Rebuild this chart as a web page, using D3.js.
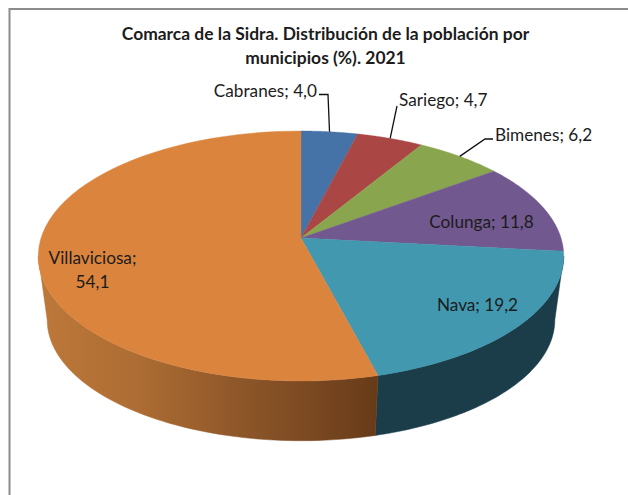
<!DOCTYPE html>
<html><head><meta charset="utf-8">
<script src="https://cdn.jsdelivr.net/npm/d3@7"></script>
<style>html,body{margin:0;padding:0;background:#fff;overflow:hidden}svg{display:block}text{font-family:Lato,"Open Sans",sans-serif;fill:#1c1c1c}</style>
</head><body><svg id="c" width="628" height="495"></svg>
<script>
const titleLines = ["Comarca de la Sidra. Distribución de la población por", "municipios (%). 2021"];
const municipios = ["Cabranes", "Sariego", "Bimenes", "Colunga", "Nava", "Villaviciosa"];
const poblacion = [4.0, 4.7, 6.2, 11.8, 19.2, 54.1];
const colores = ["#4572A7", "#AA4643", "#89A54E", "#71588F", "#4198AF", "#DB843D"];
const coloresLado = ["#2b4668", "#692b29", "#556630", "#463658", "#1b3d4a", "url(#ladoNaranja)"];

// Layout (separate from the data)
const hub = {x: 301, y: 238}, a = 260, b = 122.4, k = 0.144;
const depth = {scale: 0.966, dy: 64.6};
const labelLayout = [
  {x: 317, y: 97, anchor: "end", line: [[319, 94.5], [328, 94.5]]},
  {x: 399, y: 106, anchor: "start", line: [[397, 106]]},
  {x: 495, y: 141, anchor: "start", line: [[493, 139], [485, 139]]},
  {x: 481.5, y: 228, anchor: "middle"},
  {x: 477.5, y: 311, anchor: "middle"},
  {x: 92.5, y: 263.5, anchor: "middle", wrap: true}
];

const svg = d3.select("#c");
const coma = d3.formatLocale({decimal: ",", thousands: ".", grouping: [3], currency: ["", "€"]}).format(".1f");

// Perspective projection of a disc seen from above
function project(theta, face) {
  const u = Math.sin(theta), v = -Math.cos(theta), w = 1 - k * v;
  const s = face ? depth.scale : 1, dy = face ? depth.dy : 0;
  return [hub.x + s * a * u / w, hub.y + dy + s * b * v / w];
}
const arcSteps = (t0, t1) => d3.range(0, 61).map(i => t0 + (t1 - t0) * i / 60);
const lineGen = d3.line();

const arcs = d3.pie().sort(null).value(d => d)(poblacion);

// Frame
svg.append("path").attr("d", "M9.5,495V9H628").attr("fill", "none").attr("stroke", "#8c8c8c").attr("stroke-width", 2);

// Gradient of the orange wall
const grad = svg.append("defs").append("linearGradient").attr("id", "ladoNaranja")
  .attr("gradientUnits", "userSpaceOnUse").attr("x1", 40).attr("x2", 378).attr("y1", 0).attr("y2", 0);
[[0, "#bd7839"], [0.3, "#ac6c33"], [0.6, "#8d5629"], [0.85, "#764520"], [1, "#673b18"]]
  .forEach(([o, c]) => grad.append("stop").attr("offset", o).attr("stop-color", c));

// Side walls: only the part of each slice facing the viewer
const silR = Math.acos(-k), silL = 2 * Math.PI - silR;
arcs.forEach((d, i) => {
  const t0 = Math.max(d.startAngle, silR), t1 = Math.min(d.endAngle, silL);
  if (t1 <= t0) return;
  const ts = arcSteps(t0, t1);
  const pts = ts.map(t => project(t, false)).concat(ts.slice().reverse().map(t => project(t, true)));
  svg.append("path").attr("d", lineGen(pts) + "Z").attr("fill", coloresLado[i]).attr("stroke", coloresLado[i]).attr("stroke-width", 0.5);
});

// Top face
arcs.forEach((d, i) => {
  const pts = [[hub.x, hub.y]].concat(arcSteps(d.startAngle, d.endAngle).map(t => project(t, false)));
  svg.append("path").attr("d", lineGen(pts) + "Z").attr("fill", colores[i]).attr("stroke", colores[i]).attr("stroke-width", 0.4);
});

// Leader lines
arcs.forEach((d, i) => {
  const l = labelLayout[i];
  if (!l.line) return;
  const mid = project((d.startAngle + d.endAngle) / 2, false);
  svg.append("path").attr("d", lineGen(l.line.concat([mid]))).attr("fill", "none").attr("stroke", "#111").attr("stroke-width", 1.3);
});

// Labels
municipios.forEach((m, i) => {
  const l = labelLayout[i], val = coma(poblacion[i]);
  const t = svg.append("text").attr("x", l.x).attr("y", l.y).attr("text-anchor", l.anchor).attr("font-size", 17.2);
  if (l.wrap) {
    t.append("tspan").attr("x", l.x).text(m + ";");
    t.append("tspan").attr("x", l.x).attr("dy", 24).text(val);
  } else t.text(m + "; " + val);
});

// Title
titleLines.forEach((s, i) => {
  svg.append("text").attr("x", 325.5).attr("y", 39.5 + i * 24).attr("text-anchor", "middle")
    .attr("font-size", 17.45).attr("font-weight", 700).attr("fill", "#111").text(s);
});
</script></body></html>
